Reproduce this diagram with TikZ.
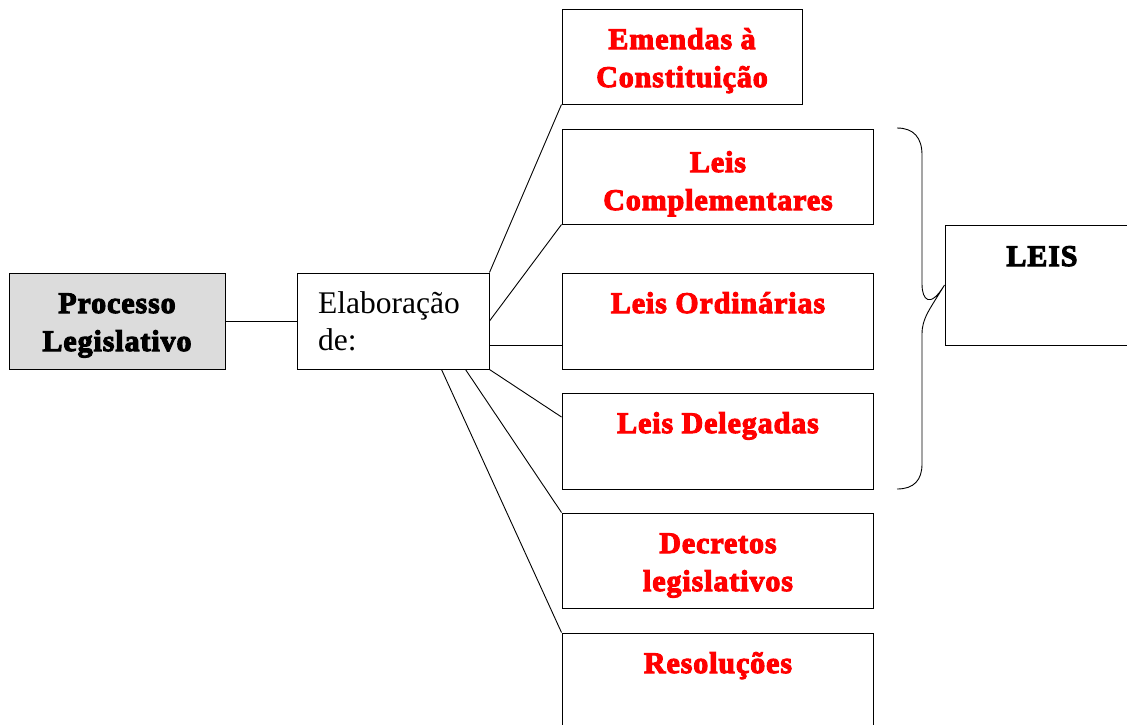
\documentclass[tikz,border=0pt]{standalone}
\usepackage{fontspec}
\setmainfont{Liberation Serif}
\newfontfamily\shadowbold[FakeBold=3.5,LetterSpace=3]{Liberation Serif Bold}
\definecolor{boxgray}{HTML}{DCDCDC}
\definecolor{txtred}{HTML}{FF0000}
\tikzset{
  box/.style={draw=black, line width=1pt, rectangle, inner sep=0pt, fill=white},
  btxt/.style={anchor=base, inner sep=0pt, font=\shadowbold\fontsize{30}{38}\selectfont},
  rtxt/.style={btxt, text=txtred},
  link/.style={draw=black, line width=0.9pt},
}
\begin{document}
\begin{tikzpicture}[x=1pt, y=-1pt]
\useasboundingbox (0,0) rectangle (1127,724);
\clip (0,0) rectangle (1127,724);
% boxes
\node[box, fill=boxgray, minimum width=216pt, minimum height=96pt] (proc) at (117,321) {};
\node[box, minimum width=192pt, minimum height=96pt] (elab) at (393,321) {};
\node[box, minimum width=240pt, minimum height=95pt] (emen) at (682,56.5) {};
\node[box, minimum width=311pt, minimum height=95pt] (comp) at (717.5,176.5) {};
\node[box, minimum width=311pt, minimum height=96pt] (ord) at (717.5,321) {};
\node[box, minimum width=311pt, minimum height=96pt] (dele) at (717.5,441) {};
\node[box, minimum width=311pt, minimum height=95pt] (decr) at (717.5,560.5) {};
\node[box, minimum width=311pt, minimum height=96pt] (reso) at (717.5,681) {};
\node[box, minimum width=195pt, minimum height=120pt] (leis) at (1042.5,285) {};
% texts
\node[btxt] (t1) at (117,313) {\begin{tabular}[t]{@{}c@{}}Processo\\Legislativo\end{tabular}};
\node[anchor=base west, inner sep=0pt, font=\fontsize{31.5}{37}\selectfont] (t2) at (318,313) {\begin{tabular}[t]{@{}l@{}}Elaboração\\de:\end{tabular}};
\node[rtxt] (t3) at (682,49) {\begin{tabular}[t]{@{}c@{}}Emendas à\\Constituição\end{tabular}};
\node[rtxt] (t4) at (718,172) {\begin{tabular}[t]{@{}c@{}}Leis\\Complementares\end{tabular}};
\node[rtxt] (t5) at (718,313) {Leis Ordinárias};
\node[rtxt] (t6) at (718,433) {Leis Delegadas};
\node[rtxt] (t7) at (718,553) {\begin{tabular}[t]{@{}c@{}}Decretos\\legislativos\end{tabular}};
\node[rtxt] (t8) at (718,673) {Resoluções};
\node[btxt] (t9) at (1042,266) {LEIS};
% connectors
\draw[link] (proc.east) -- (elab.west);
\draw[link] (elab.north east) -- (emen.south west);
\draw[link] (elab.east) -- (comp.south west);
\draw[link] ([yshift=-24pt]elab.east) -- ([yshift=-24pt]ord.west);
\draw[link] (elab.south east) -- ([yshift=24pt]dele.west);
\draw[link] ([xshift=-24pt]elab.south east) -- (decr.north west);
\draw[link] ([xshift=-48pt]elab.south east) -- (reso.north west);
% brace
\coordinate (btop) at (897,128);
\coordinate (bbot) at (897,489);
\draw[link] (btop) .. controls (914,128) and (922,138) .. (922,155)
  -- (922,284) .. controls (922,300) and (930,309) .. (leis.west)
  .. controls (930,309) and (922,318) .. (922,334)
  -- (922,464) .. controls (922,480) and (914,489) .. (bbot);
\end{tikzpicture}
\end{document}
